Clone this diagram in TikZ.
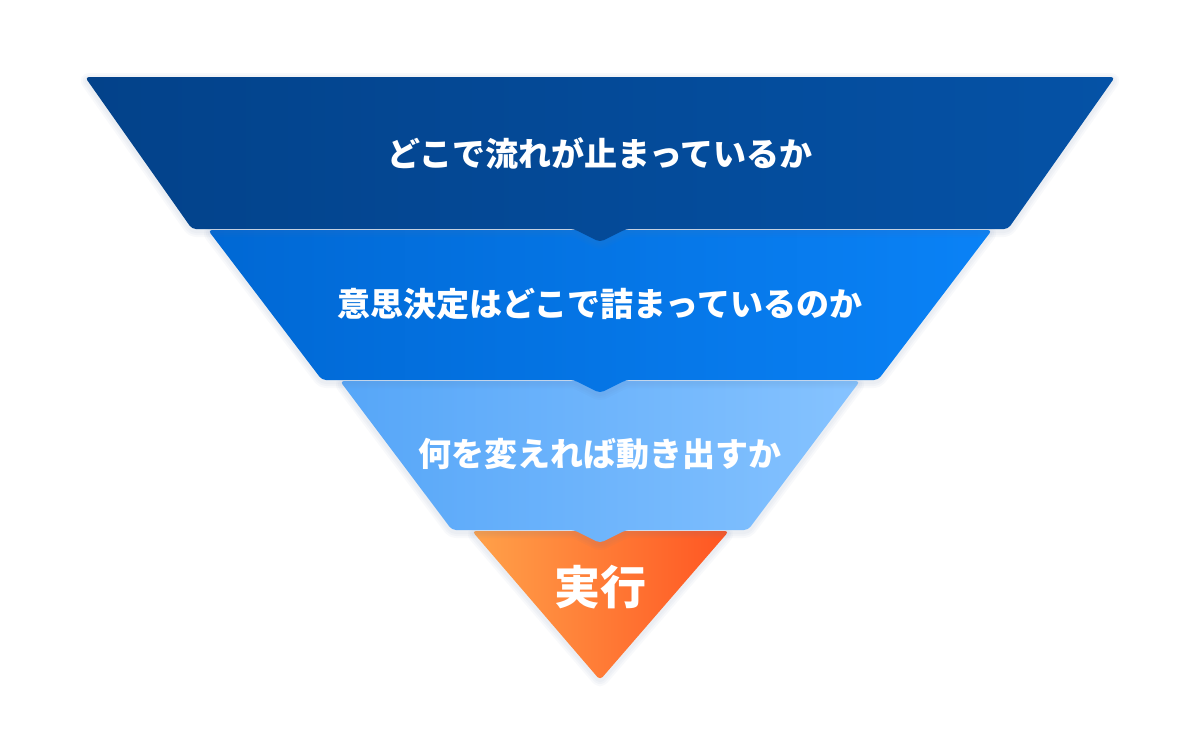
\documentclass[tikz,border=0pt]{standalone}
\usepackage{fontspec}
\newfontfamily\jpfont{Noto Sans CJK JP}
\definecolor{bandAleft}{HTML}{03428A}
\definecolor{bandAright}{HTML}{0552A6}
\definecolor{bandBleft}{HTML}{0068D4}
\definecolor{bandBright}{HTML}{0A82F6}
\definecolor{bandCleft}{HTML}{56A6F8}
\definecolor{bandCright}{HTML}{86C3FF}
\definecolor{goleft}{HTML}{FFA24A}
\definecolor{goright}{HTML}{FF5522}
\definecolor{haze}{HTML}{5A78A8}
\tikzset{
  haze/.style={preaction={draw=haze, line width=#1, draw opacity=0.04,
    line join=round, transform canvas={yshift=-2pt}}},
  band/.style={rounded corners=4pt, haze=12pt, haze=8pt, haze=4pt},
  bandtext/.style={text=white, font=\jpfont\bfseries\fontsize{33}{36}\selectfont},
}
\begin{document}
\begin{tikzpicture}[x=1pt,y=-1pt]
  \useasboundingbox (0,0) rectangle (1200,740);
  \fill[white] (0,0) rectangle (1200,740);
  % drawn from the bottom up, so that each notch lies over the band below
  \path[band, left color=goleft, right color=goright]
    (472,531) -- (729,531) -- (600,680) -- cycle;
  \path[band, left color=bandCleft, right color=bandCright]
    (340,381) -- (860,381) -- (748,530) -- (626,530) -- (600,543)
    -- (574,530) -- (452,530) -- cycle;
  \path[band, left color=bandBleft, right color=bandBright]
    (208,230) -- (992,230) -- (878,380) -- (626,380) -- (600,393)
    -- (574,380) -- (322,380) -- cycle;
  \path[band, left color=bandAleft, right color=bandAright]
    (85,77) -- (1115,77) -- (1008,229) -- (626,229) -- (600,242)
    -- (574,229) -- (192,229) -- cycle;
  \node[bandtext] (where) at (600,154) {どこで流れが止まっているか};
  \node[bandtext] (decide) at (600,304) {意思決定はどこで詰まっているのか};
  \node[bandtext] (change) at (600,454) {何を変えれば動き出すか};
  \node[bandtext, font=\jpfont\bfseries\fontsize{46}{50}\selectfont] (act) at (600,587) {実行};
\end{tikzpicture}
\end{document}
